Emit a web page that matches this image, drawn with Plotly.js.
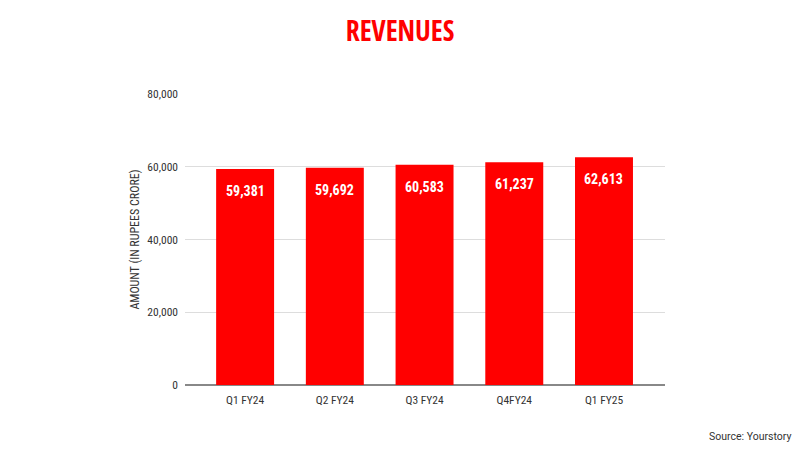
<!DOCTYPE html>
<html>
<head>
<meta charset="utf-8">
<script src="https://cdn.plot.ly/plotly-3.0.1.min.js"></script>
<style>
  html, body { margin: 0; padding: 0; background: #ffffff; }
  #chart { width: 800px; height: 450px; }
</style>
</head>
<body>
<div id="chart"></div>
<script>
// Quarterly revenues (in rupees crore)
const quarters = ['Q1 FY24', 'Q2 FY24', 'Q3 FY24', 'Q4FY24', 'Q1 FY25'];
const revenues = [59381, 59692, 60583, 61237, 62613];
const yTicks = [0, 20000, 40000, 60000, 80000];
const yTickLabels = ['0', '20,000', '40,000', '60,000', '80,000'];

const barColor = '#ff0000';
const textGray = '#333333';
const condensed = 'Roboto Condensed, Liberation Sans, Arial, sans-serif';
const tickFont = { family: condensed, size: 11.5, color: textGray };
const fmt = v => v.toLocaleString('en-US');

const trace = {
  type: 'bar',
  x: quarters,
  y: revenues,
  marker: { color: barColor, line: { width: 0 } },
  hoverinfo: 'x+y'
};

// value labels sit just inside the top of each bar
const valueLabels = quarters.map((q, i) => ({
  x: q,
  y: revenues[i],
  xref: 'x',
  yref: 'y',
  text: '<b>' + fmt(revenues[i]) + '</b>',
  showarrow: false,
  yanchor: 'top',
  yshift: -12,
  font: { family: condensed, size: 14, color: '#ffffff' }
}));

const layout = {
  width: 800,
  height: 450,
  paper_bgcolor: '#ffffff',
  plot_bgcolor: '#ffffff',
  margin: { l: 185, r: 135, t: 94, b: 65 },
  bargap: 0.354,
  showlegend: false,
  title: {
    text: '<b>REVENUES</b>',
    font: { family: 'Open Sans Condensed, Roboto Condensed, sans-serif', size: 28, color: '#ff0000' },
    x: 0.5,
    xanchor: 'center',
    y: 0.93,
    yanchor: 'middle'
  },
  xaxis: {
    type: 'category',
    range: [-0.67, 4.68],
    showgrid: false,
    showline: false,
    zeroline: false,
    ticks: '',
    tickfont: tickFont,
    ticklabelstandoff: 6
  },
  yaxis: {
    range: [0, 80000],
    tickvals: yTicks,
    ticktext: yTickLabels,
    showgrid: true,
    gridcolor: '#dddddd',
    gridwidth: 1,
    zeroline: true,
    zerolinecolor: '#888888',
    zerolinewidth: 1.5,
    showline: false,
    ticks: '',
    ticklabelstandoff: 6,
    tickfont: tickFont,
    title: {
      text: 'AMOUNT (IN RUPEES CRORE)',
      font: { family: condensed, size: 12, color: textGray },
      standoff: 5
    }
  },
  annotations: valueLabels.concat([{
    xref: 'paper',
    yref: 'paper',
    x: (793 - 185) / 480,
    y: -(436 - 385) / 291,
    xanchor: 'right',
    yanchor: 'middle',
    text: 'Source: Yourstory',
    showarrow: false,
    font: { family: 'Roboto, Liberation Sans, Arial, sans-serif', size: 10.5, color: textGray }
  }])
};

Plotly.newPlot('chart', [trace], layout, { displayModeBar: false, staticPlot: true });
</script>
</body>
</html>
